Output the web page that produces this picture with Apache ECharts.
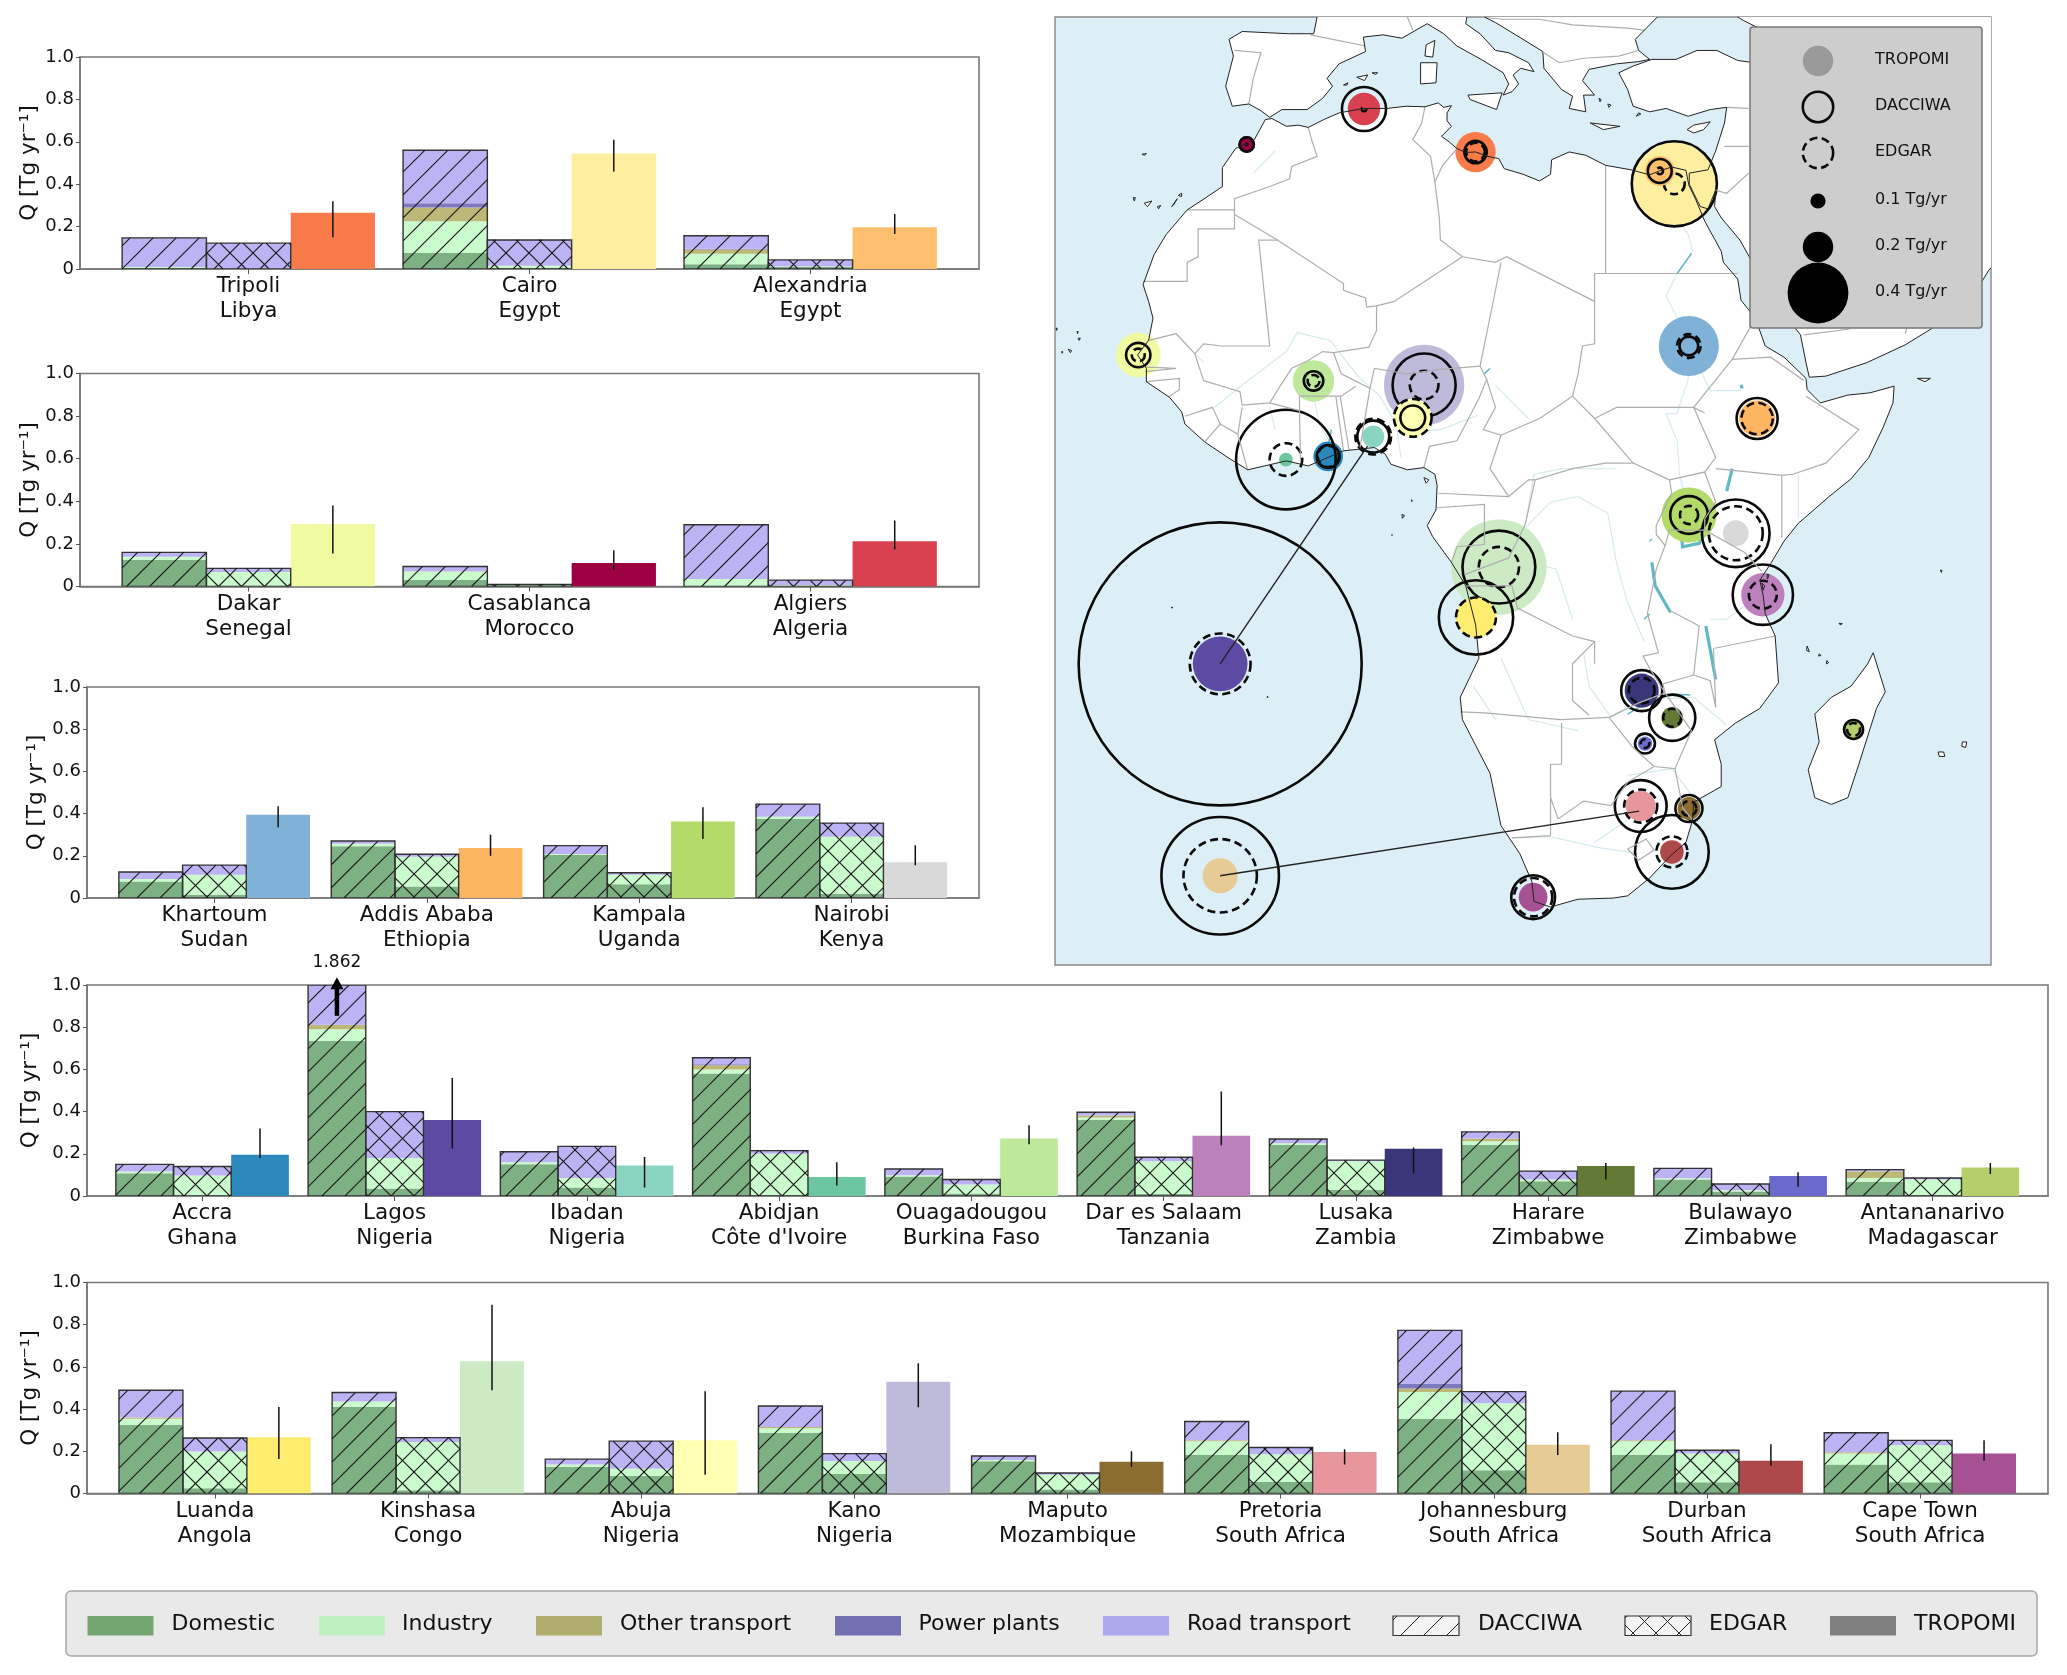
<!DOCTYPE html>
<html><head><meta charset="utf-8">
<style>html,body{margin:0;padding:0;background:#fff}#c{width:2067px;height:1675px}</style>
<script src="https://cdn.jsdelivr.net/npm/echarts@6/dist/echarts.min.js"></script>
</head><body><div id="c"></div>
<script>
// ---------- bar data: each stack is [Domestic, Industry, Other transport, Power plants, Road transport] ----------
const sectors = ["Domestic","Industry","Other transport","Power plants","Road transport"];
const sectorColors = ["#7DB183","#C9FBCC","#BDB878","#7E7ABF","#BBB3F3"];
const citiesA = ["Tripoli\nLibya","Cairo\nEgypt","Alexandria\nEgypt"];
const dacciwaA = [[.005,.005,0,0,.137],[.075,.15,.065,.02,.25],[.022,.05,.02,.003,.062]];
const edgarA = [[0,0,0,0,.122],[.005,.01,0,.002,.12],[.01,.002,0,0,.031]];
const tropomiA = [.265,.545,.197];
const errLowA = [.15,.46,.165];
const errHighA = [.32,.61,.26];
const colorsA = ["#F97B4A","#FEEFA0","#FEC06E"];
const placesA = [[13.19,32.89],[31.24,30.04],[29.92,31.2]];

const citiesB = ["Dakar\nSenegal","Casablanca\nMorocco","Algiers\nAlgeria"];
const dacciwaB = [[.125,.015,0,0,.02],[.03,.04,.002,0,.022],[.002,.033,0,0,.255]];
const edgarB = [[.003,.065,0,0,.017],[.008,.001,0,0,.001],[.002,.005,0,0,.023]];
const tropomiB = [.293,.11,.213];
const errLowB = [.155,.08,.175];
const errHighB = [.38,.17,.31];
const colorsB = ["#F0FAA0","#9E0142","#D9404F"];
const placesB = [[-17.44,14.69],[-7.59,33.57],[3.06,36.75]];

const citiesC = ["Khartoum\nSudan","Addis Ababa\nEthiopia","Kampala\nUganda","Nairobi\nKenya"];
const dacciwaC = [[.078,.012,0,0,.033],[.245,.012,0,0,.013],[.205,.003,0,0,.04],[.375,.01,0,0,.06]];
const edgarC = [[.015,.095,0,0,.046],[.055,.14,0,0,.012],[.065,.045,0,0,.01],[.02,.27,0,0,.065]];
const tropomiC = [.395,.237,.362,.17];
const errLowC = [.335,.2,.28,.155];
const errHighC = [.435,.3,.43,.25];
const colorsC = ["#7FB2D6","#FDB562","#B3DB6A","#D9D9D9"];
const placesC = [[32.56,15.5],[38.76,9.0],[32.58,.35],[36.82,-1.29]];

const citiesD = ["Accra\nGhana","Lagos\nNigeria","Ibadan\nNigeria","Abidjan\nCôte d'Ivoire","Ouagadougou\nBurkina Faso","Dar es Salaam\nTanzania","Lusaka\nZambia","Harare\nZimbabwe","Bulawayo\nZimbabwe","Antananarivo\nMadagascar"];
const dacciwaD = [[.108,.008,0,0,.034],[.735,.055,.02,.002,1.05],[.15,.01,0,0,.05],[.58,.02,.02,.005,.03],[.093,.005,0,0,.03],[.36,.012,.01,0,.015],[.243,.007,0,0,.02],[.243,.017,.013,0,.031],[.078,.006,0,0,.047],[.068,.017,.032,0,.008]];
const edgarD = [[.002,.095,0,0,.043],[.035,.145,0,0,.22],[.04,.045,0,0,.15],[.005,.195,0,0,.015],[.012,.043,0,0,.023],[.01,.155,0,0,.019],[.03,.135,0,0,.005],[.07,.008,0,0,.04],[.021,.006,0,0,.03],[.004,.074,0,0,.007]];
const tropomiD = [.195,.36,.145,.09,.273,.285,.224,.142,.095,.135];
const errLowD = [.18,.225,.04,.05,.245,.24,.108,.078,.044,.104];
const errHighD = [.32,.56,.185,.16,.335,.495,.23,.156,.112,.156];
const colorsD = ["#2B88BC","#5C4AA3","#8AD5C2","#6CC6A0","#BEE89A","#BC80BD","#39367A","#637A36","#6B6BCE","#B5CF6B"];
const placesD = [[-.19,5.6],[-10,-13],[3.9,7.38],[-4.03,5.32],[-1.52,12.37],[39.28,-6.8],[28.28,-15.4],[31.05,-17.83],[28.58,-20.15],[47.52,-18.88]];

const citiesE = ["Luanda\nAngola","Kinshasa\nCongo","Abuja\nNigeria","Kano\nNigeria","Maputo\nMozambique","Pretoria\nSouth Africa","Johannesburg\nSouth Africa","Durban\nSouth Africa","Cape Town\nSouth Africa"];
const dacciwaE = [[.326,.028,.006,0,.129],[.411,.025,0,0,.043],[.127,.011,0,0,.025],[.288,.021,.006,0,.1],[.153,.006,0,0,.019],[.182,.066,.004,0,.089],[.354,.127,.017,.023,.252],[.182,.066,.004,0,.233],[.138,.051,.006,0,.093]];
const edgarE = [[.025,.174,0,0,.064],[.015,.229,0,0,.021],[.083,.034,0,0,.131],[.093,.061,0,0,.035],[.019,.07,0,0,.008],[.055,.131,0,0,.032],[.11,.318,0,0,.055],[.053,.136,0,0,.016],[.053,.176,0,0,.023]];
const tropomiE = [.267,.627,.252,.53,.15,.197,.231,.155,.189];
const errLowE = [.163,.489,.089,.409,.127,.138,.182,.131,.155];
const errHighE = [.41,.894,.485,.617,.2,.21,.29,.233,.252];
const colorsE = ["#FFED6F","#CCEBC5","#FFFFB3","#BEBADA","#8C6D31","#E7969C","#E7CB94","#AD494A","#A55194"];
const placesE = [[13.23,-8.84],[15.31,-4.32],[7.49,9.06],[8.52,12.0],[32.57,-25.97],[28.19,-25.75],[-10,-32],[31.02,-29.86],[18.42,-33.92]];

const yTicks = [0,.2,.4,.6,.8,1];
const clippedLabel = "1.862";
const clippedTail = .854, clippedTip = 1.037, clippedText = 1.108;
const insetLinks = [[[-10,-13],[3.38,6.52]],[[-10,-32],[28.05,-26.2]]];

// ---------- base map (lon, lat) ----------
const frameBox = [[-25,45],[60,-40]];
const africa = [[-5.9,35.8],[-5.3,35.9],[-4.0,35.2],[-2.9,35.3],[-2.0,35.1],[-.6,35.8],[.8,36.4],[3,36.8],[5.1,36.8],[6.9,37],[8.6,36.95],[9.8,37.3],[10.3,36.9],[11,37.05],[10.6,36.4],[10.6,35.7],[11,35.2],[10.1,34.3],[10.8,33.8],[11.5,33.2],[12.3,32.85],[13.2,32.9],[14.3,32.5],[15.3,32.3],[15.8,31.4],[17.5,30.9],[19,30.3],[20,30.9],[20.1,32.2],[21.7,32.9],[23.2,32.6],[25,31.7],[27.3,31.3],[29,30.85],[29.9,31.2],[31,31.55],[32.3,31.25],[32.55,29.95],[33.2,28.6],[34,26.7],[35.5,24],[35.7,23],[37,21.5],[37.3,19.6],[38.6,18],[39.5,15.5],[41.2,14.5],[43.2,12.6],[43.3,11.6],[44.5,10.4],[47,11.1],[49,11.3],[51.2,11.9],[51.1,10.4],[50.2,8.2],[48.9,5.5],[47.3,3.6],[45.3,2],[42.5,-.4],[41.2,-2],[40,-4],[39,-5.5],[39.3,-6.8],[39.5,-8.5],[40.4,-10.5],[40.7,-14.7],[39,-17],[36.8,-18.3],[34.9,-19.8],[35.5,-22],[35.5,-24],[33,-25.4],[32.9,-27],[32.3,-29],[30.9,-30.2],[29,-32.2],[27,-33.8],[25.7,-34],[22.5,-34.1],[20,-34.8],[18.5,-34.3],[18.3,-32.5],[17.2,-30],[15.5,-27.5],[14.5,-22.8],[12,-18],[11.8,-16],[13.5,-12.5],[13.2,-9.5],[12.3,-6],[11,-3.9],[9.3,-1.6],[8.8,-.6],[9.6,.8],[9.7,3],[9.5,4],[8.5,4.6],[7,4.4],[5.5,4.9],[5,5.8],[4,6.4],[1.2,6.1],[-2,4.75],[-4,5.2],[-7.5,4.4],[-9.3,5.5],[-11.4,6.9],[-13.2,8.5],[-13.5,9.6],[-14.6,10.9],[-16.7,12.3],[-16.7,13.5],[-17.5,14.7],[-16.5,16],[-16.1,18],[-16.5,19.5],[-17,21],[-16,23.7],[-14.9,25.5],[-13,27.7],[-11.3,28.8],[-9.8,29.8],[-9.8,31.5],[-8.6,33.2],[-6.9,34]];
const madagascar = [[49.3,-12],[50.4,-15.5],[49.6,-17],[48,-22],[47,-25],[45.5,-25.6],[44,-25],[43.4,-22.5],[44.4,-20],[44,-17.5],[45.5,-16],[47.3,-15],[48.8,-13]];
const iberiaItaly = [[-1.2,45],[-1.5,43.5],[-3.8,43.5],[-8,43.7],[-9.2,43],[-8.8,41.5],[-9.5,38.8],[-8.9,37],[-7.4,37.2],[-6.3,36.6],[-5.5,36],[-4.4,36.7],[-2.1,36.7],[-.7,37.7],[.2,38.8],[-.3,39.5],[.8,40.8],[3.2,41.9],[3,43.2],[4.8,43.4],[6.5,43.1],[8.8,44.4],[10.3,43.5],[11.5,42.4],[13.7,41.2],[15.7,40],[16.2,39],[15.7,38],[16.5,38.3],[17.1,39],[16.6,39.8],[17.3,40.4],[18.5,40.1],[18,40.9],[16.2,41.8],[15,42],[13.6,43.5],[12.3,44.4],[12.4,45]];
const balkans = [[14,45],[15,44.5],[17.5,43],[19.3,41.9],[19.4,40.4],[21,38.5],[22,37.9],[21.7,36.8],[23.2,36.5],[23,38],[24,38],[22.9,39.3],[23.5,40.3],[26,40.8],[28,41],[29,41.2],[28,42],[27.7,43],[28.6,43.9],[29.7,45]];
const asiaMinor = [[26.2,40],[27,38.5],[27.5,37],[29,36.5],[30.5,36.8],[32.5,36.1],[34.5,36.7],[36,36.9],[35.8,35.5],[35,33],[34.3,31.3],[32.6,31],[32.6,30],[33.6,28],[34.3,27.8],[35,29.5],[34.9,28],[35.5,27],[37.2,25],[38.9,22],[39.2,21],[40.7,19],[42.7,16.5],[43.2,14],[43.5,12.7],[45,12.8],[48.7,14],[52.2,15.6],[55,17.3],[57.7,18.9],[59.8,22.3],[60,22.5],[60,45],[37,45],[37.5,44.7],[41.5,42.7],[41.7,41.6],[38.5,40.9],[37,41.1],[35.1,42],[33.3,42],[31.4,41.2],[29.2,41.2],[27.5,40.6]];
const islands = [
 [[8.2,39],[9.6,39.1],[9.7,40.9],[8.2,40.9]],[[8.6,41.5],[9.3,41.4],[9.5,42.9],[8.7,42.5]],[[12.5,38],[15.6,38.2],[15.1,36.7],[12.7,37.6]],
 [[2.4,39.6],[3.4,39.8],[3.1,39.3]],[[1.2,38.9],[1.6,39.1],[1.5,38.9]],[[3.8,40],[4.3,40],[4.1,39.85]],[[23.6,35.5],[26.3,35.2],[24.8,34.9]],
 [[32.4,34.9],[33,35.3],[34.5,35.6],[33.9,34.9],[33,34.6]],[[28,36.4],[28.2,36.3],[27.8,36.1]],[[25.2,37.2],[25.5,37.1],[25.3,36.9]],[[24.4,37.7],[24.6,37.6],[24.5,37.4]],
 [[-16.9,28.3],[-16.2,28.5],[-16.6,28]],[[-15.7,28],[-15.4,28.1],[-15.6,27.8]],[[-14.2,28.2],[-13.9,28.7],[-14.4,28]],[[-13.8,29],[-13.5,29.2],[-13.5,28.9]],[[-17.9,28.8],[-17.7,28.8],[-17.8,28.5]],
 [[-17.1,32.7],[-16.7,32.75],[-16.9,32.6]],[[-24.9,17.1],[-24.8,17.1],[-24.85,16.9]],[[-23.8,15.2],[-23.5,15.1],[-23.6,14.9]],[[-24.4,15],[-24.3,15],[-24.35,14.85]],[[-22.9,16.2],[-22.7,16.2],[-22.8,16]],[[-23,16.8],[-22.9,16.8],[-22.95,16.6]],
 [[53.3,12.6],[54.5,12.6],[54,12.3]],[[8.5,3.7],[8.95,3.5],[8.7,3.2]],[[6.5,.4],[6.75,.3],[6.55,.05]],[[7.35,1.7],[7.45,1.65],[7.4,1.55]],[[5.6,-1.4],[5.65,-1.45],[5.6,-1.5]],
 [[-14.4,-7.9],[-14.3,-7.95],[-14.4,-8]],[[-5.7,-15.9],[-5.65,-16],[-5.75,-16]],[[43.3,-11.4],[43.5,-11.9],[43.25,-11.8]],[[44.4,-12.1],[44.55,-12.25],[44.35,-12.3]],[[45.1,-12.7],[45.25,-12.9],[45.05,-13]],
 [[55.4,-4.6],[55.55,-4.6],[55.5,-4.8]],[[46.2,-9.35],[46.5,-9.4],[46.3,-9.5]],[[57.4,-20],[57.8,-20],[57.7,-20.5],[57.35,-20.4]],[[55.2,-20.9],[55.7,-20.9],[55.8,-21.3],[55.3,-21.3]],[[39.2,-5.75],[39.45,-6],[39.3,-6.4]],[[39.65,-4.95],[39.85,-5],[39.7,-5.4]]
];
const borders = [
 [[-2,35.1],[-1.7,34],[-1.2,32.5],[-3.5,31.6],[-3.7,30.5],[-5.5,29.8],[-8.7,28.7],[-8.7,27.3],[-4.8,25],[1.2,21.1],[1.2,20.5],[3.2,19.8],[3.3,19],[4.2,19.1],[5.8,19.5],[12,23.5]],
 [[-8.7,27.7],[-13,27.7]],[[-8.7,27.3],[-8.7,26],[-12,26],[-12,23.5],[-13,23],[-13,21.3],[-17,21.3]],
 [[8.6,36.95],[8.3,35.5],[7.5,34],[9.1,32.5],[9.5,30.2],[9.9,27],[10,25],[12,23.5],[15,23],[16,23.5],[24,19.5],[24,22],[25,22],[25,31.7]],
 [[9.5,30.2],[10.2,31.7],[11.5,33.2]],[[25,22],[37,22]],[[24,19.5],[24,15.7],[22.9,15.5],[22.5,13],[22,11]],
 [[-4.8,25],[-6.5,25],[-5.5,15.5],[-9.8,15.5],[-11.5,15.7],[-12.3,14.8],[-11.5,12.4]],[[-16.5,16],[-14,16.6],[-12.3,14.8]],
 [[4.2,19.1],[4.2,16.9],[3.5,15.4],[.3,14.9],[-.7,15],[-2,14.2],[-3.5,13.5],[-4.5,12],[-5.5,10.4],[-8,10.2],[-8.2,11.4],[-11.5,12.4]],
 [[3.6,11.7],[4,13.5],[7,13],[10,13.4],[13.6,13.7]],[[15.5,23],[15,20.5],[13.6,13.7]],[[.3,14.9],[1,13],[3.6,11.7]],[[-5.5,10.4],[-2.8,9.7],[-2.8,11],[1,11],[2.3,11.9]],[[-2.8,9.7],[-2.7,5]],[[.5,11],[1.2,6.1]],[[2.7,6.4],[3.6,11.7]],[[.9,11],[1.7,6.2]],
 [[-8,10],[-8.4,7.6],[-7.5,4.4]],[[-8.4,7.6],[-10,8.5],[-11.4,6.9]],[[-10,8.5],[-10.7,10],[-13.2,9.2]],[[-16.7,12.3],[-13.7,12.6],[-13.7,11.6],[-14.7,10.9]],[[-16.7,13.6],[-14,13.5],[-16.8,13.2]],
 [[8.5,4.6],[9,6.5],[11.5,7],[13.5,10.8],[14.2,12.5],[13.6,13.7]],[[14.2,12.5],[15,10],[13.9,8],[15.5,7.5]],[[15.5,7.5],[19,9],[22,11],[24,9],[27.5,5],[30.8,3.5]],[[15.5,7.5],[14.5,4.5],[16.2,2],[18,3.5],[18.6,3.5],[22,4.5],[25,5],[27.5,5]],
 [[9.8,2.3],[16.2,2]],[[9.7,1],[14,1.3],[14,-2.3],[11.5,-2.5],[11,-3.9]],[[12.2,-5],[16.2,-3.5],[17.7,-.5],[18.6,3.5]],
 [[12.3,-6],[16.5,-6],[17,-8],[22,-10.5],[24,-11],[24,-13]],[[24,-11],[22,-13],[22,-16.3],[23.5,-17.6]],[[11.8,-17.3],[14,-17.4],[20.9,-18],[25.3,-17.8]],[[21,-18.3],[21,-22],[20,-22],[20,-28.4],[16.5,-28.6]],
 [[20,-25],[20.7,-26.9],[23,-25.3],[25.5,-25.7],[27,-23.6],[29.4,-22.2]],[[25.3,-17.8],[28,-16.5],[30.4,-15.6]],[[25.3,-17.8],[27.5,-20.5],[29.4,-22.2],[31.3,-22.4],[32.8,-19],[30.4,-15.6]],[[31.3,-22.4],[32,-25.9],[32.9,-27]],
 [[27,-29.6],[28.7,-28.7],[29.4,-29.7],[28,-30.6],[27,-29.6]],[[33,-14],[33.5,-9.6]],[[33,-14],[34.5,-14.5],[35,-16.9],[34.8,-11.6]],[[34.9,-11.6],[40.4,-10.5]],[[30.4,-15.6],[30.2,-14.8],[33,-14]],
 [[30.4,-15.6],[29,-13.4],[28.4,-12.3],[29.8,-12],[28.8,-8.5],[29.6,-4.5],[30.4,-2.4],[29.6,-1.4],[29.6,-.6],[31,2.3],[30.8,3.5]],[[30.8,-8.2],[33.5,-9.6]],[[30.4,-2.4],[30.8,-1],[34,-1]],[[30.8,3.5],[34,4.2],[35,1.5],[34,0],[34,-1],[37.6,-3],[39.2,-4.7]],
 [[24,9],[26,10],[33,10],[34,9.5]],[[38.6,18],[36.5,14.3],[33,10],[35,5.5],[34,4.2]],[[36.5,14.3],[40,14.5],[43,12.4]],[[43.2,11],[48,8],[45,5],[42,4],[41,3.9],[41,-1.7]],[[35,4.5],[41,3.9]],
 [[52.2,16.6],[53,19],[55,20]],[[43,16.5],[47,17],[52,19]],[[-1.8,43.4],[3.2,42.4]],[[-8.7,42],[-6.3,41.8],[-7,39.5],[-7.4,37.2]],[[7.5,43.8],[7,45]],[[13.6,45],[15.7,44.8],[19,44.8],[22,44.3],[27,44],[28.6,43.8]],[[19.4,41.8],[20.8,40.9],[23,41.3],[26.2,41.5],[28,42]],[[36,36.9],[38,36.8]],[[35.8,33.4],[38,33.4]],[[34.9,29.5],[36,29.2],[38,31]]
];
const rivers = [
 [[31.2,30],[31,27.5],[32.5,25.5],[32.9,24],[31.5,22],[30.5,20],[31.5,18],[33.5,17.5],[32.56,15.6],[32.5,12.5],[31.5,9.5],[30.5,9.4],[31.5,7],[31.7,4],[32.3,1.7]],
 [[32.56,15.6],[34.5,11.5],[37.3,11.5]],[[-10.5,10],[-8,12],[-4,15],[-3,16.7],[0,16],[2.5,12.8],[4.5,11],[6,8.5],[6.4,5.5]],[[6.8,7.8],[10,8],[13.4,9.3]],
 [[12.4,-6],[15.3,-4.3],[16.5,-2.5],[18,-.5],[20,1.5],[22.5,2],[25.2,.5],[26,-4],[27,-7.5],[28.5,-11]],[[16,-3.5],[20.5,-4.5],[22,-9]],[[17.8,0],[18.5,4],[21,4.5],[26,4.5]],
 [[36,-18.5],[33,-16],[28.5,-16.2],[25.5,-17.8],[23.5,-15],[23,-12]],[[16.5,-28.6],[20,-28.5],[24.5,-29.5],[28,-30]],[[33,-25],[31,-22.4],[27,-23]],[[-16.5,16],[-14,16.6],[-11.5,14]],[[.5,6],[-1,8.5],[-1.5,11]],
 [[15.5,-12.5],[18,-18],[22.5,-19]],[[42.5,0],[42.5,4]],[[15,12],[18,9]],[[38,-7.5],[36,-9],[34.5,-9]],[[-7,31],[-5,33]],[[-5,8],[-5.5,10]],[[13,-15],[15,-18]],[[24,-29],[27,-27]]
];
const lakes = [
 [[29.2,-3.9],[29.5,-6],[30.9,-8.4]],[[34.1,-9.6],[35,-14.4]],[[31.8,-1],[32,-2.5],[33.5,-2.2],[34,-1]],[[36,2.5],[36.5,4.5]],[[37.3,12],[37.4,11.7]]
];
const thinLakes = [
 [[30.5,1.5],[31.3,2.2]],[[29,-2],[29.2,-1.8]],[[31.5,22],[32.8,23.8]],[[28.5,-9],[29,-8.5]],[[27,-17.5],[28.5,-16.6]],[[31,-15.7],[32.7,-15.8]],[[14,13],[14.5,13.5]],[[-.2,6.5],[.1,8]]
];

// ---------- styles ----------
const fontFam = "'DejaVu Sans',sans-serif";
const mapPxPerTg = 152;
const panels = [
 {c:citiesA,d:dacciwaA,e:edgarA,t:tropomiA,lo:errLowA,hi:errHighA,col:colorsA,pl:placesA,g:{left:80,top:57,width:899,height:212}},
 {c:citiesB,d:dacciwaB,e:edgarB,t:tropomiB,lo:errLowB,hi:errHighB,col:colorsB,pl:placesB,g:{left:80,top:373.5,width:899,height:213}},
 {c:citiesC,d:dacciwaC,e:edgarC,t:tropomiC,lo:errLowC,hi:errHighC,col:colorsC,pl:placesC,g:{left:87,top:687,width:892,height:211}},
 {c:citiesD,d:dacciwaD,e:edgarD,t:tropomiD,lo:errLowD,hi:errHighD,col:colorsD,pl:placesD,g:{left:87,top:985,width:1961,height:211}},
 {c:citiesE,d:dacciwaE,e:edgarE,t:tropomiE,lo:errLowE,hi:errHighE,col:colorsE,pl:placesE,g:{left:87,top:1282.5,width:1961,height:211}}
];

function hatchSegs(x0,y0,x1,y1,s,dir){ // y0<y1, x0<x1
  const out=[];
  if(dir>0){ for(let c=Math.ceil((x0+y0)/s)*s;c<=x1+y1;c+=s){
      const a=Math.max(x0,c-y1),b=Math.min(x1,c-y0); if(b>a) out.push([a,c-a,b,c-b]); } }
  else { for(let c=Math.ceil((x0-y1)/s)*s;c<=x1-y0;c+=s){
      const a=Math.max(x0,c+y0),b=Math.min(x1,c+y1); if(b>a) out.push([a,a-c,b,b-c]); } }
  return out;
}
const barW = .3;
function rectOf(api,x,y0,y1){
  const p0=api.coord([x-barW/2,y0]),p1=api.coord([x+barW/2,Math.min(y1,1)]);
  return [p0[0],p1[1],p1[0],p0[1]];
}

const grids=[],xAxes=[],yAxes=[],series=[];
panels.forEach((p,pi)=>{
  grids.push(Object.assign({show:true,borderColor:'#777',borderWidth:1.6,backgroundColor:'transparent',containLabel:false},p.g));
  const n=p.c.length;
  xAxes.push({gridIndex:pi,type:'value',min:-.6,max:n-1+.6,splitLine:{show:false},
    axisLine:{show:true,onZero:false,lineStyle:{color:'#777',width:1.6}},
    axisTick:{show:true,length:5,inside:false,customValues:p.c.map((_,i)=>i),lineStyle:{color:'#555',width:1}},
    axisLabel:{show:true,customValues:p.c.map((_,i)=>i),formatter:v=>p.c[Math.round(v)],color:'#111',fontFamily:fontFam,fontSize:21.5,lineHeight:25,margin:5,hideOverlap:false,showMinLabel:true,showMaxLabel:true}});
  yAxes.push({gridIndex:pi,type:'value',min:0,max:1,interval:.2,splitLine:{show:false},
    name:'Q [Tg yr⁻¹]',nameLocation:'middle',nameGap:40,nameRotate:90,nameTextStyle:{color:'#111',fontFamily:fontFam,fontSize:21.5},
    axisLine:{show:true,onZero:false,lineStyle:{color:'#777',width:1.6}},axisTick:{show:true,length:4,lineStyle:{color:'#555',width:1}},
    axisLabel:{color:'#111',fontFamily:fontFam,fontSize:18,margin:6,formatter:v=>yTicks.includes(+v.toFixed(1))?(v===0?'0':v.toFixed(1)):''}});
  const common={type:'custom',coordinateSystem:'cartesian2d',xAxisIndex:pi,yAxisIndex:pi,silent:true,clip:true};
  sectors.forEach((sec,si)=>{
    const data=[];
    [[p.d,-.3],[p.e,0]].forEach(([set,off])=>{
      set.forEach((st,g)=>{
        const base=st.slice(0,si).reduce((a,b)=>a+b,0);
        if(st[si]>0) data.push([g+off,base,base+st[si]]);
      });
    });
    series.push(Object.assign({},common,{name:sec,data,encode:{x:0,y:[1,2]},z:2,
      renderItem:(par,api)=>{
        const r=rectOf(api,api.value(0),api.value(1),api.value(2));
        return {type:'rect',shape:{x:r[0],y:r[1],width:r[2]-r[0],height:r[3]-r[1]},style:{fill:sectorColors[si]}};
      }}));
  });
  [[p.d,-.3,'DACCIWA',[1]],[p.e,0,'EDGAR',[1,-1]]].forEach(([set,off,name,dirs])=>{
    const data=set.map((st,g)=>[g+off,0,st.reduce((a,b)=>a+b,0)]);
    series.push(Object.assign({},common,{name,data,encode:{x:0,y:[1,2]},z:3,
      renderItem:(par,api)=>{
        const r=rectOf(api,api.value(0),api.value(1),api.value(2));
        const ch=[{type:'rect',shape:{x:r[0],y:r[1],width:r[2]-r[0],height:r[3]-r[1]},style:{fill:'none',stroke:'#333',lineWidth:1.4}}];
        dirs.forEach(d=>hatchSegs(r[0],r[1],r[2],r[3],23,d).forEach(s=>ch.push({type:'line',shape:{x1:s[0],y1:s[1],x2:s[2],y2:s[3]},style:{stroke:'#1a1a1a',lineWidth:1.1}})));
        return {type:'group',children:ch};
      }}));
  });
  series.push(Object.assign({},common,{name:'TROPOMI',data:p.t.map((v,g)=>[g+.3,0,v]),encode:{x:0,y:[1,2]},z:2,
    renderItem:(par,api)=>{
      const r=rectOf(api,api.value(0),api.value(1),api.value(2));
      return {type:'rect',shape:{x:r[0],y:r[1],width:r[2]-r[0],height:r[3]-r[1]},style:{fill:p.col[par.dataIndex]}};
    }}));
  series.push(Object.assign({},common,{name:'TROPOMI error',data:p.t.map((v,g)=>[g+.3,p.lo[g],p.hi[g]]),encode:{x:0,y:[1,2]},z:4,
    renderItem:(par,api)=>{
      const a=api.coord([api.value(0),api.value(1)]),b=api.coord([api.value(0),api.value(2)]);
      return {type:'line',shape:{x1:a[0],y1:a[1],x2:b[0],y2:b[1]},style:{stroke:'#111',lineWidth:1.5}};
    }}));
});
series.push({type:'custom',coordinateSystem:'cartesian2d',xAxisIndex:3,yAxisIndex:3,silent:true,clip:false,z:6,name:'Lagos DACCIWA total',
  data:[[1-.3,clippedTail,clippedTip,clippedText]],encode:{x:0,y:[1,2]},
  renderItem:(par,api)=>{
    const a=api.coord([api.value(0),api.value(1)]),b=api.coord([api.value(0),api.value(2)]),t=api.coord([api.value(0),api.value(3)]);
    return {type:'group',children:[
      {type:'line',shape:{x1:a[0],y1:a[1],x2:b[0],y2:b[1]+8},style:{stroke:'#000',lineWidth:4.5}},
      {type:'polygon',shape:{points:[[b[0],b[1]],[b[0]-6.5,b[1]+12],[b[0]+6.5,b[1]+12]]},style:{fill:'#000'}},
      {type:'text',x:t[0],y:t[1],style:{text:clippedLabel,fill:'#111',font:"17px "+fontFam,textAlign:'center',textVerticalAlign:'middle'}}
    ]};
  }});

// ---------- map ----------
const box=frameBox;
const ring=r=>r.concat([r[0]]);
const landRings=[africa,madagascar,iberiaItaly,balkans,asiaMinor].concat(islands);
const geoJson={type:'FeatureCollection',features:[
  {type:'Feature',properties:{name:'ocean'},geometry:{type:'Polygon',coordinates:[[[box[0][0],box[0][1]],[box[1][0],box[0][1]],[box[1][0],box[1][1]],[box[0][0],box[1][1]],[box[0][0],box[0][1]]]]}},
  {type:'Feature',properties:{name:'land'},geometry:{type:'MultiPolygon',coordinates:landRings.map(r=>[ring(r)])}}
]};
echarts.registerMap('africaBase',geoJson);
const onFrame=p=>p[1]>=45||p[0]>=60;
function coastPieces(r){
  const closed=ring(r),out=[];let cur=[closed[0]];
  for(let i=1;i<closed.length;i++){
    if(onFrame(closed[i])&&onFrame(closed[i-1])){ if(cur.length>1) out.push(cur); cur=[closed[i]]; }
    else cur.push(closed[i]);
  }
  if(cur.length>1) out.push(cur);
  return out;
}
const coastLines=landRings.flatMap(coastPieces);
const mapLines=(name,list,color,width,z)=>({type:'lines',name,coordinateSystem:'geo',geoIndex:0,polyline:true,silent:true,z,large:false,
  lineStyle:{color,width,opacity:1},data:list.map(c=>({coords:c}))});

const mapItems=[];
panels.forEach(p=>p.c.forEach((_,g)=>{
  const sum=a=>a.reduce((x,y)=>x+y,0);
  mapItems.push([p.pl[g][0],p.pl[g][1],p.t[g],sum(p.d[g]),sum(p.e[g]),p.col[g]]);
}));
mapItems.sort((a,b)=>b[2]-a[2]);
series.push(mapLines('rivers',rivers,'#d3e9ec',1.1,3));
series.push(mapLines('lakes',lakes,'#62b8c4',3.2,3));
series.push(mapLines('thin lakes',thinLakes,'#62b8c4',1.5,3));
series.push({type:'custom',name:'Emissions map',coordinateSystem:'geo',geoIndex:0,silent:true,z:5,
  data:mapItems.map(m=>m.slice(0,5)),
  dimensions:['lon','lat','tropomi','dacciwa','edgar'],encode:{lng:0,lat:1},
  renderItem:(par,api)=>{
    const c=api.coord([api.value(0),api.value(1)]);
    const rr=v=>v*mapPxPerTg/2;
    return {type:'group',children:[
      {type:'circle',shape:{cx:c[0],cy:c[1],r:rr(api.value(2))},style:{fill:mapItems[par.dataIndex][5]}},
      {type:'circle',shape:{cx:c[0],cy:c[1],r:rr(api.value(3))},style:{fill:'none',stroke:'#0a0a0a',lineWidth:2.6}},
      {type:'circle',shape:{cx:c[0],cy:c[1],r:rr(api.value(4))},style:{fill:'none',stroke:'#0a0a0a',lineWidth:2.6,lineDash:[8,4.5]}}
    ]};
  }});
series.push(mapLines('borders',borders,'#aeaeae',1.2,6));
series.push(mapLines('coast',coastLines,'#222',1,7));
series.push(mapLines('inset links',insetLinks,'#222',1.4,8));

// ---------- legends ----------
const gfx=[];
const T=(text,x,y,size)=>({type:'text',z:100,x,y,style:{text,fill:'#111',font:size+"px "+fontFam,textVerticalAlign:'middle'}});
gfx.push({type:'rect',z:90,shape:{x:66,y:1591,width:1971,height:65,r:5},style:{fill:'#e9e9e9',stroke:'#a8a8a8',lineWidth:1.5}});
const legItems=[["Domestic",87.5,171.5,"#74A672"],["Industry",319,402,"#BFF0C2"],["Other transport",536,620,"#B0AE6E"],["Power plants",835,918.5,"#7270B0"],["Road transport",1103,1187,"#ADA8EA"],["DACCIWA",1393,1478,null,[1]],["EDGAR",1625,1709,null,[1,-1]],["TROPOMI",1830,1914,"#808080"]];
legItems.forEach(([t,sx,tx,col,dirs])=>{
  if(col){gfx.push({type:'rect',z:95,shape:{x:sx,y:1616,width:66,height:19.5},style:{fill:col}});}
  else{
    gfx.push({type:'rect',z:95,shape:{x:sx,y:1616,width:66,height:19.5},style:{fill:'#f4f4f4',stroke:'#333',lineWidth:1.2}});
    dirs.forEach(d=>hatchSegs(sx,1616,sx+66,1635.5,23,d).forEach(s=>gfx.push({type:'line',z:96,shape:{x1:s[0],y1:s[1],x2:s[2],y2:s[3]},style:{stroke:'#222',lineWidth:1}})));
  }
  gfx.push(T(t,tx,1624,22));
});
gfx.push({type:'rect',z:90,shape:{x:1750,y:27,width:232,height:301,r:3},style:{fill:'#cdcdcd',stroke:'#777',lineWidth:1.5}});
const mapLeg=[["TROPOMI",61,.2,'fill','#9a9a9a'],["DACCIWA",107,.2,'ring'],["EDGAR",153,.2,'dash'],["0.1 Tg/yr",201,.1,'fill','#000'],["0.2 Tg/yr",247,.2,'fill','#000'],["0.4 Tg/yr",293,.4,'fill','#000']];
mapLeg.forEach(([t,y,q,k,col])=>{
  const r=q*mapPxPerTg/2;
  const style=k==='fill'?{fill:col}:{fill:'none',stroke:'#0a0a0a',lineWidth:2.6,lineDash:k==='dash'?[8,4.5]:null};
  gfx.push({type:'circle',z:95,shape:{cx:1818,cy:y,r},style});
  gfx.push(T(t,1875,y-1,16));
});

const option={animation:false,backgroundColor:'#fff',
  grid:grids,xAxis:xAxes,yAxis:yAxes,
  geo:{map:'africaBase',roam:false,silent:true,left:1055,top:17,width:936,height:948,aspectScale:936/948,boundingCoords:frameBox,
    label:{show:false},emphasis:{disabled:true},
    itemStyle:{areaColor:'#fff',borderWidth:0},
    regions:[{name:'ocean',itemStyle:{areaColor:'#DDEFF6',borderColor:'#888',borderWidth:1.4}},{name:'land',itemStyle:{areaColor:'#fff',borderWidth:0}}]},
  series,graphic:{elements:gfx}};
const chart=echarts.init(document.getElementById('c'),null,{renderer:'canvas'});
chart.setOption(option);
</script></body></html>
